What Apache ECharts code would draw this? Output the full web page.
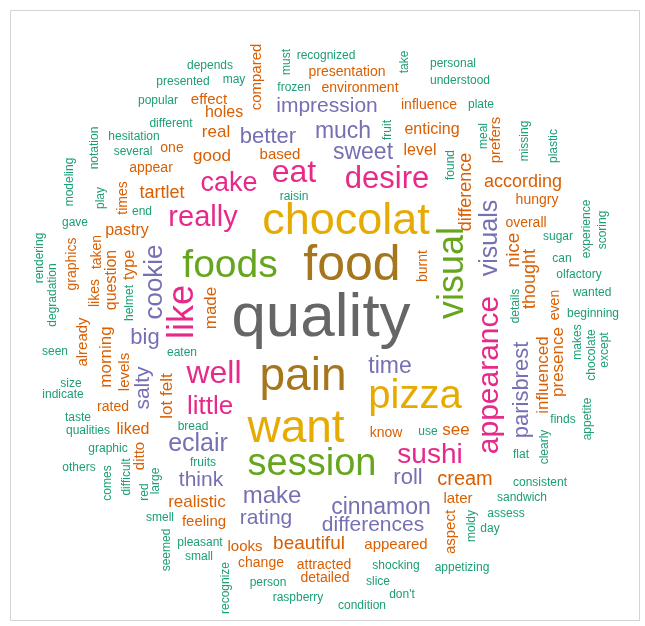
<!DOCTYPE html>
<html><head><meta charset="utf-8">
<script src="https://cdn.jsdelivr.net/npm/echarts@6/dist/echarts.min.js"></script>
<style>html,body{margin:0;padding:0;background:#fff}#c{width:645px;height:626px}</style>
</head><body><div id="c"></div>
<script>
// Words grouped by frequency tier (Dark2 colour bins): gray, brown, yellow, green, pink, purple, orange, teal
const grayWords   = ['quality'];
const brownWords  = ['food','pain'];
const yellowWords = ['chocolat','want','pizza'];
const greenWords  = ['foods','visual','session'];
const pinkWords   = ['eat','desire','cake','really','like','well','little','appearance','sushi'];
const purpleWords = ['impression','better','much','sweet','cookie','big','salty','eclair','think','make','rating','time','roll','cinnamon','differences','visuals','parisbrest'];
const orangeWords = ['compared','presentation','environment','influence','effect','holes','real','good','one','appear',
  'enticing','level','based','tartlet','times','pastry','graphics','taken','question','type',
  'likes','made','already','morning','levels','lot felt','rated','liked','ditto','realistic',
  'feeling','looks','beautiful','change','attracted','detailed','appeared','know','see','cream',
  'later','aspect','difference','according','hungry','overall','nice','thought','burnt','even',
  'influenced','presence','prefers'];
const tealWords = ['depends','presented','may','popular','different','notation','hesitation','several','modeling','must',
  'recognized','take','frozen','fruit','raisin','personal','understood','plate','meal','missing',
  'plastic','found','experience','scoring','sugar','can','olfactory','wanted','details','beginning',
  'makes','chocolate','except','finds','appetite','clearly','flat','use','play','end',
  'gave','rendering','helmet','degradation','seen','eaten','size','indicate','taste','qualities',
  'bread','graphic','others','comes','difficult','red','large','fruits','smell','seemed',
  'pleasant','small','recognize','consistent','sandwich','moldy','assess','day','appetizing','shocking',
  'person','slice','raspberry',"don't",'condition'];

// Relative weight (rendered as font size)
const grayWeights   = [62];
const brownWeights  = [50,46];
const yellowWeights = [45,46,40];
const greenWeights  = [39,36,38];
const pinkWeights   = [32,31,27,29,36,32,26,30,28];
const purpleWeights = [21,22,23,23,26,22,21,25,21,24,21,23,22,23,21,25,22];
const orangeWeights = [15,14,14,14,15,16,17,17,14,14,
  16,16,15,18,14,16,14,14,16,16,
  14,17,15,17,15,17,14,16,15,17,
  15,15,19,14,14,14,15,14,17,20,
  15,15,18,18,14,14,19,18,14,14,
  17,17,15];
const tealWeight = 12;

// Layout anchors (x, y in the cloud's own coordinate space) and vertical flag
const grayPos   = [[321,319,0]];
const brownPos  = [[352,266,0],[303,377,0]];
const yellowPos = [[346,222,0],[296,429,0],[415,397,0]];
const greenPos  = [[230,266,0],[453,273,1],[312,465,0]];
const pinkPos   = [[294,173,0],[387,179,0],[229,184,0],[203,218,0],[183,312,1],[214,374,0],[210,407,0],[490,375,1],[430,455,0]];
const purplePos = [[327,106,0],[268,137,0],[343,132,0],[363,153,0],[155,282,1],[145,338,0],[143,388,1],[198,444,0],[201,480,0],[272,496,0],
  [266,518,0],[390,367,0],[408,478,0],[381,508,0],[373,525,0],[490,238,1],[522,390,1]];
const orangePos = [[257,77,1],[347,72,0],[360,88,0],[429,105,0],[209,100,0],[224,113,0],[216,132,0],[212,156,0],[172,148,0],[151,168,0],
  [432,130,0],[420,151,0],[280,155,0],[162,193,0],[123,198,1],[127,231,0],[72,264,1],[97,252,1],[112,280,1],[130,265,1],
  [95,293,1],[211,308,1],[83,342,1],[106,357,1],[125,372,1],[167,396,1],[113,407,0],[133,430,0],[140,456,1],[197,502,0],
  [204,522,0],[245,547,0],[309,544,0],[261,563,0],[324,565,0],[325,578,0],[396,545,0],[386,433,0],[456,430,0],[465,479,0],
  [458,499,0],[451,532,1],[466,192,1],[523,182,0],[537,200,0],[526,223,0],[514,250,1],[530,279,1],[423,266,1],[555,305,1],
  [543,375,1],[558,362,1],[496,140,1]];
const tealPos = [[210,66,0],[183,82,0],[234,80,0],[158,101,0],[171,124,0],[95,148,1],[134,137,0],[133,152,0],[70,182,1],[287,62,1],
  [326,56,0],[405,62,1],[294,88,0],[388,130,1],[294,197,0],[453,64,0],[460,81,0],[481,105,0],[484,136,1],[525,141,1],
  [554,146,1],[451,165,1],[587,229,1],[603,230,1],[558,237,0],[562,259,0],[579,275,0],[592,293,0],[516,306,1],[593,314,0],
  [578,342,1],[592,355,1],[605,350,1],[563,420,0],[588,419,1],[545,447,1],[521,455,0],[428,432,0],[101,198,1],[142,212,0],
  [75,223,0],[40,258,1],[130,303,1],[53,295,1],[55,352,0],[182,353,0],[71,384,0],[63,395,0],[78,418,0],[88,431,0],
  [193,427,0],[108,449,0],[79,468,0],[108,483,1],[127,477,1],[145,492,1],[156,481,1],[203,463,0],[160,518,0],[167,550,1],
  [200,543,0],[199,557,0],[226,588,1],[540,483,0],[522,498,0],[472,526,1],[506,514,0],[490,529,0],[462,568,0],[396,566,0],
  [268,583,0],[378,582,0],[298,598,0],[402,595,0],[362,606,0]];

const palette = {
  gray:'#666666', brown:'#A6761D', yellow:'#E6AB02', green:'#66A61E',
  pink:'#E7298A', purple:'#7570B3', orange:'#D95F02', teal:'#1B9E77'
};

const groups = [
  [grayWords, grayWeights, grayPos, palette.gray],
  [brownWords, brownWeights, brownPos, palette.brown],
  [yellowWords, yellowWeights, yellowPos, palette.yellow],
  [greenWords, greenWeights, greenPos, palette.green],
  [pinkWords, pinkWeights, pinkPos, palette.pink],
  [purpleWords, purpleWeights, purplePos, palette.purple],
  [orangeWords, orangeWeights, orangePos, palette.orange],
  [tealWords, tealWords.map(() => tealWeight), tealPos, palette.teal]
];

const data = [];
groups.forEach(([ws, wts, pos, color]) => {
  ws.forEach((w, i) => {
    const p = pos[i];
    data.push({
      name: w,
      value: [p[0], p[1]],
      label: { fontSize: wts[i], rotate: p[2] ? 90 : 0, color: color }
    });
  });
});

const chart = echarts.init(document.getElementById('c'), null, {renderer:'canvas'});
chart.setOption({
  animation: false,
  backgroundColor: '#ffffff',
  graphic: [{
    type: 'rect', left: 8, top: 8, silent: true,
    shape: { width: 629, height: 610 },
    style: { fill: 'none', stroke: '#d4d4d4', lineWidth: 1 }
  }],
  grid: { left: 0, right: 0, top: 0, bottom: 0 },
  xAxis: { type: 'value', min: 0, max: 645, show: false },
  yAxis: { type: 'value', min: 0, max: 626, inverse: true, show: false },
  series: [{
    type: 'scatter',
    symbol: 'circle',
    symbolSize: 1,
    itemStyle: { color: 'rgba(255,255,255,0)', opacity: 1 },
    silent: true,
    label: {
      show: true,
      position: 'inside',
      formatter: '{b}',
      fontFamily: '"Liberation Sans", Arial, Helvetica, sans-serif',
      fontWeight: 'normal',
      align: 'center',
      verticalAlign: 'middle'
    },
    emphasis: { disabled: true },
    data: data
  }]
});
</script>
</body></html>
